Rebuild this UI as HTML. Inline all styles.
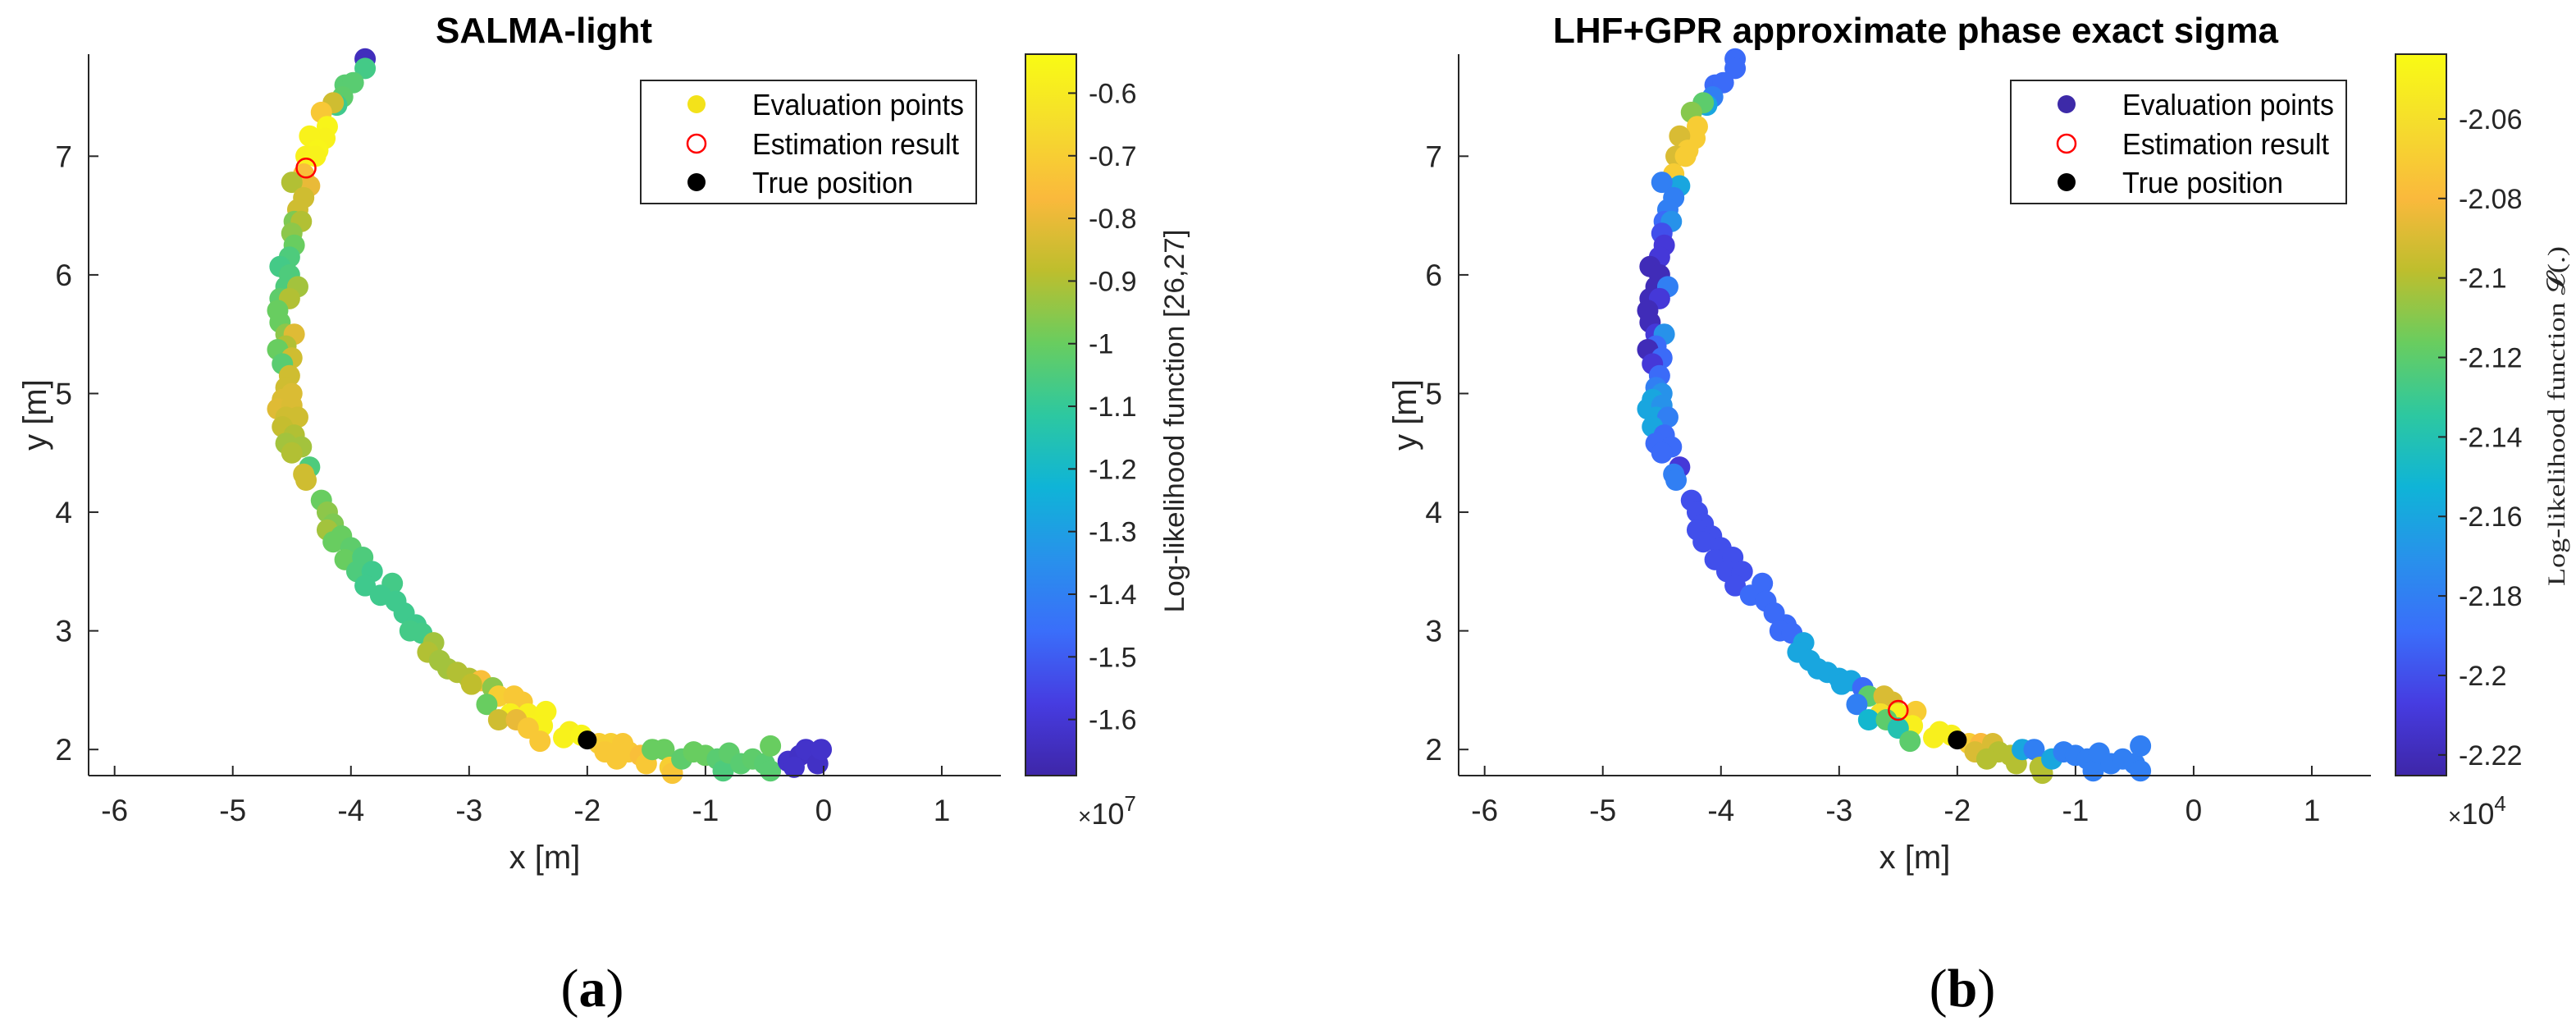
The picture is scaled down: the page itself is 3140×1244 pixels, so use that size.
<!DOCTYPE html>
<html><head><meta charset="utf-8">
<style>
html,body{margin:0;padding:0;background:#fff;}
svg{display:block;}
text{font-family:"Liberation Sans",Arial,sans-serif;fill:#262626;}
</style></head>
<body>
<svg id="fig" width="3140" height="1244" viewBox="0 0 3140 1244" xmlns="http://www.w3.org/2000/svg">
<defs>
<linearGradient id="parula" x1="0" y1="1" x2="0" y2="0"></linearGradient>
</defs>
<g id="panelA"></g>
<g id="panelB"></g>
</svg>
<script>
// ---- data ----
const xs = [-3.88,-3.88,-4.05,-3.98,-4.07,-4.12,-4.15,-4.25,-4.2,-4.22,-4.35,-4.28,-4.38,-4.3,-4.4,-4.35,-4.5,-4.4,-4.45,-4.48,-4.42,-4.5,-4.48,-4.52,-4.6,-4.52,-4.55,-4.45,-4.6,-4.52,-4.62,-4.6,-4.55,-4.48,-4.55,-4.62,-4.5,-4.58,-4.52,-4.55,-4.5,-4.58,-4.62,-4.5,-4.55,-4.45,-4.58,-4.48,-4.55,-4.42,-4.5,-4.35,-4.4,-4.38,-4.25,-4.2,-4.15,-4.2,-4.08,-4.15,-4.0,-4.05,-3.9,-3.95,-3.82,-3.88,-3.65,-3.75,-3.62,-3.55,-3.45,-3.5,-3.4,-3.3,-3.35,-3.25,-3.18,-3.1,-3.0,-2.9,-2.98,-2.8,-2.75,-2.62,-2.85,-2.55,-2.65,-2.5,-2.75,-2.6,-2.35,-2.45,-2.38,-2.5,-2.4,-2.15,-2.2,-2.05,-1.9,-1.8,-1.7,-1.85,-1.65,-1.75,-1.55,-1.5,-1.45,-1.35,-1.3,-1.28,-1.2,-1.1,-1.0,-0.9,-0.85,-0.8,-0.7,-0.6,-0.5,-0.45,-0.45,-0.3,-0.2,-0.15,-0.05,-0.02,-0.25];
const ys = [7.82,7.74,7.6,7.62,7.5,7.43,7.45,7.37,7.25,7.15,7.17,7.05,7.0,7.0,6.85,6.75,6.78,6.65,6.55,6.45,6.45,6.35,6.25,6.15,6.07,6.0,5.9,5.9,5.8,5.8,5.7,5.6,5.5,5.5,5.4,5.37,5.3,5.25,5.15,5.05,5.0,4.95,4.87,4.9,4.8,4.8,4.72,4.65,4.58,4.55,4.5,4.38,4.32,4.27,4.1,4.0,3.9,3.85,3.8,3.75,3.7,3.6,3.62,3.5,3.5,3.38,3.4,3.3,3.25,3.15,3.05,3.0,2.98,2.9,2.82,2.75,2.68,2.65,2.6,2.58,2.55,2.52,2.45,2.45,2.38,2.4,2.3,2.3,2.25,2.25,2.32,2.2,2.2,2.18,2.07,2.15,2.1,2.12,2.05,2.05,2.05,1.98,1.98,1.92,1.95,1.88,2.0,2.0,1.85,1.8,1.92,1.98,1.95,1.92,1.82,1.97,1.88,1.92,1.88,2.03,1.82,1.9,1.95,2.0,1.88,2.0,1.85];
// values panel (a), units of 1e7
const valsA = [-1.65,-1.07,-1.03,-1.03,-1.02,-1.08,-0.85,-0.72,-0.56,-0.57,-0.57,-0.56,-0.58,-0.57,-0.75,-0.8,-0.9,-0.85,-0.85,-0.97,-0.9,-0.95,-1.0,-1.05,-1.07,-1.05,-1.05,-0.92,-1.02,-0.9,-1.0,-1.0,-0.95,-0.82,-0.9,-1.0,-0.85,-1.03,-0.85,-0.85,-0.83,-0.83,-0.82,-0.83,-0.85,-0.85,-0.87,-0.9,-0.92,-0.92,-0.9,-1.05,-0.85,-0.85,-1.0,-0.95,-0.97,-0.92,-1.0,-1.0,-1.02,-1.0,-1.05,-1.05,-1.08,-1.08,-1.07,-1.08,-1.08,-1.08,-1.08,-1.07,-1.07,-0.92,-0.9,-0.92,-0.92,-0.9,-0.9,-0.75,-0.88,-0.95,-0.7,-0.72,-1.0,-0.72,-0.58,-0.58,-0.85,-0.8,-0.57,-0.57,-0.57,-0.72,-0.72,-0.58,-0.57,-0.56,-0.7,-0.7,-0.72,-0.72,-0.72,-0.72,-0.75,-0.72,-1.0,-1.0,-0.7,-0.73,-1.02,-1.0,-1.0,-1.03,-1.05,-1.02,-1.03,-1.02,-1.03,-1.0,-1.03,-1.62,-1.63,-1.62,-1.63,-1.62,-1.62];
// values panel (b), units of 1e4 (null = not present)
const valsB = [-2.19,-2.19,-2.19,-2.19,-2.18,-2.16,-2.12,-2.11,-2.07,-2.07,-2.09,-2.07,-2.09,-2.07,-2.07,-2.16,-2.18,-2.18,-2.18,-2.19,-2.17,-2.20,-2.21,-2.21,-2.22,-2.22,-2.22,-2.18,-2.22,-2.21,-2.22,-2.22,-2.21,-2.17,-2.19,-2.22,-2.19,-2.21,-2.19,-2.18,-2.17,-2.16,-2.16,-2.17,-2.16,-2.18,-2.16,-2.19,-2.19,-2.19,-2.19,-2.21,-2.18,-2.18,-2.20,-2.20,-2.20,-2.20,-2.20,-2.20,-2.20,-2.20,-2.20,-2.20,-2.20,-2.20,-2.19,-2.19,-2.19,-2.19,-2.19,-2.19,-2.19,-2.16,-2.16,-2.16,-2.16,-2.16,-2.16,-2.16,-2.16,-2.19,-2.12,-2.09,-2.18,-2.09,-2.06,-2.05,-2.15,-2.12,-2.07,-2.05,-2.05,-2.14,-2.12,-2.05,-2.05,-2.05,-2.07,-2.08,-2.09,-2.09,-2.1,-2.1,-2.1,-2.1,-2.16,-2.18,-2.1,-2.1,-2.16,-2.18,-2.18,-2.18,-2.18,-2.18,-2.18,-2.18,-2.18,-2.18,-2.18,null,null,null,null,null,null];
const xTicks = [-6,-5,-4,-3,-2,-1,0,1];
const yTicks = [2,3,4,5,6,7];
const cbTicksA = [-0.6,-0.7,-0.8,-0.9,-1,-1.1,-1.2,-1.3,-1.4,-1.5,-1.6];
const cbTicksB = [-2.06,-2.08,-2.1,-2.12,-2.14,-2.16,-2.18,-2.2,-2.22];
const estA = [-4.38,6.9], trueA = [-2.0,2.08];
const estB = [-2.5,2.33], trueB = [-2.0,2.08];

const NS = "http://www.w3.org/2000/svg";
const parulaStops = [[0,[62,38,168]],[0.1,[70,60,225]],[0.2,[58,110,250]],[0.3,[40,145,235]],[0.4,[15,180,215]],[0.5,[45,200,160]],[0.6,[105,205,95]],[0.7,[190,190,45]],[0.8,[250,185,60]],[0.9,[245,220,45]],[1,[249,251,20]]];
function parula(t){t=Math.max(0,Math.min(1,t));for(let i=1;i<parulaStops.length;i++){const a=parulaStops[i-1],b=parulaStops[i];if(t<=b[0]){const f=(t-a[0])/(b[0]-a[0]);const c=a[1].map((v,k)=>Math.round(v+(b[1][k]-v)*f));return `rgb(${c[0]},${c[1]},${c[2]})`;}}return "rgb(249,251,20)";}
const grad=document.getElementById('parula');
parulaStops.forEach(s=>{const st=document.createElementNS(NS,'stop');st.setAttribute('offset',s[0]);st.setAttribute('stop-color',parula(s[0]));grad.appendChild(st);});
function el(tag,attrs,parent,txt){const e=document.createElementNS(NS,tag);for(const k in attrs)e.setAttribute(k,attrs[k]);if(txt!==undefined)e.textContent=txt;parent.appendChild(e);return e;}

function panel(g,o){
  const L=o.L,R=L+1112,T=66,B=945, xmin=-6.22,xmax=1.5,ymin=1.78,ymax=7.86;
  const X=v=>L+(v-xmin)/(xmax-xmin)*(R-L), Y=v=>B-(v-ymin)/(ymax-ymin)*(B-T);
  const C=v=>(v-o.cmin)/(o.cmax-o.cmin);
  const t=el('text',{x:o.tx,y:52,'text-anchor':'middle','font-size':44,'font-weight':'bold',fill:'#000',style:'fill:#000'},g,o.title);
  
  
  const pts=el('g',{},g);
  
  
  for(let i=0;i<xs.length;i++){const v=o.vals[i];if(v===null)continue;
    const c=el('circle',{cx:X(xs[i]),cy:Y(ys[i]),r:13,fill:parula(C(v))},pts);
    
    }
  const tp=el('circle',{cx:X(o.tru[0]),cy:Y(o.tru[1]),r:11.5,fill:'#000'},g);
  
  
  const es=el('circle',{cx:X(o.est[0]),cy:Y(o.est[1]),r:11.5,fill:'none',stroke:'#f00','stroke-width':2.5},g);
  
  
  const ax=el('g',{stroke:'#262626','stroke-width':2},g);
  
  
  el('line',{x1:L,y1:T,x2:L,y2:B},ax);
  el('line',{x1:L,y1:B,x2:R,y2:B},ax);
  xTicks.forEach(v=>{el('line',{x1:X(v),y1:B,x2:X(v),y2:B-12},ax);
    const lb=el('text',{x:X(v),y:1000,'text-anchor':'middle','font-size':37,stroke:'none'},g,String(v));
    
    });
  yTicks.forEach(v=>{el('line',{x1:L,y1:Y(v),x2:L+12,y2:Y(v)},ax);
    const lb=el('text',{x:L-20,y:Y(v)+13,'text-anchor':'end','font-size':37},g,String(v));
    
    });
  const xl=el('text',{x:(L+R)/2,y:1058,'text-anchor':'middle','font-size':40},g,'x [m]');
  
  
  const yl=el('text',{transform:`translate(${L-52},${(T+B)/2}) rotate(-90)`,'text-anchor':'middle','font-size':40},g,'y [m]');
  
  
  const lg=el('g',{},g);
  
  
  el('rect',{x:o.lx,y:98,width:409,height:150,fill:'#fff',stroke:'#262626','stroke-width':2},lg);
  const rows=[['Evaluation points',127,258],['Estimation result',175,252],['True position',222,196]];
  el('circle',{cx:o.lx+68,cy:127,r:11,fill:o.legColor},lg);
  el('circle',{cx:o.lx+68,cy:175,r:11,fill:'none',stroke:'#f00','stroke-width':2.5},lg);
  el('circle',{cx:o.lx+68,cy:222,r:11,fill:'#000'},lg);
  rows.forEach((r,i)=>{const tx=el('text',{x:o.lx+136,y:r[1]+13,'font-size':36,textLength:r[2],lengthAdjust:'spacingAndGlyphs',fill:'#000',style:'fill:#000'},lg,r[0]);
    
    });
  const cx0=o.cbx,cw=62;
  const cb=el('rect',{x:cx0,y:T,width:cw,height:B-T,fill:'url(#parula)',stroke:'#262626','stroke-width':2},g);
  
  
  const CY=v=>B-(v-o.cmin)/(o.cmax-o.cmin)*(B-T);
  o.cbTicks.forEach(v=>{el('line',{x1:cx0+cw,y1:CY(v),x2:cx0+cw-10,y2:CY(v),stroke:'#262626','stroke-width':2},g);
    const lb=el('text',{x:cx0+cw+15,y:CY(v)+12,'font-size':34},g,String(v));
    
    });
  const ex=el('text',{x:cx0+64,y:1004,'font-size':36},g,'');
  
  
  el('tspan',{'font-size':28},ex,'×');
  el('tspan',{},ex,'10');
  el('tspan',{dy:-16,'font-size':26},ex,o.exp);
  const cl=el('text',{transform:`translate(${o.clx},${o.cly}) rotate(-90)`,'text-anchor':'middle','font-size':o.clf,textLength:o.cll,lengthAdjust:'spacingAndGlyphs',style:o.clStyle},g,o.clabel);
  
  
  const sub=el('text',{x:o.sx,y:1226,'text-anchor':'middle','font-size':66,'font-family':'Liberation Serif, serif',style:'font-family:"Liberation Serif",serif;fill:#000'},g,'');
  
  
  el('tspan',{},sub,'(');
  el('tspan',{'font-weight':'bold'},sub,o.sub);
  el('tspan',{},sub,')');
}
panel(document.getElementById('panelA'),{L:108,tx:663,title:'SALMA-light',vals:valsA,cmin:-1.6896,cmax:-0.5378,est:estA,tru:trueA,lx:781,legColor:'#f3e21a',cbx:1250,cbTicks:cbTicksA,exp:'7',clx:1443,cly:513,clf:34,cll:467,clStyle:'',clabel:'Log-likelihood function [26,27]',sx:722,sub:'a'});
panel(document.getElementById('panelB'),{L:1778,tx:2335,title:'LHF+GPR approximate phase exact sigma',vals:valsB,cmin:-2.2252,cmax:-2.0437,est:estB,tru:trueB,lx:2451,legColor:'#3d2aa8',cbx:2920,cbTicks:cbTicksB,exp:'4',clx:3126,cly:507,clf:30,cll:414,clStyle:'font-family:"Liberation Serif",serif',clabel:'Log-likelihood function 𝓛(.)',sx:2392,sub:'b'});
</script>
</body></html>
